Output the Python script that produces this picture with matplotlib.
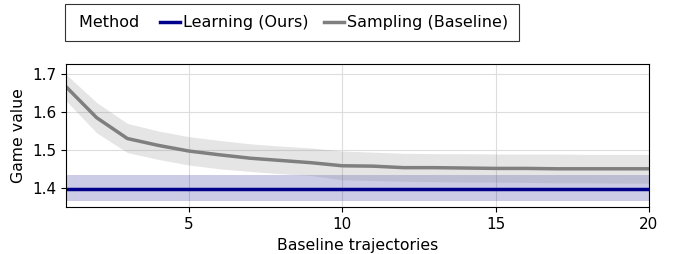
import matplotlib
matplotlib.use("Agg")
import matplotlib.pyplot as plt
from matplotlib.lines import Line2D
import numpy as np

# baseline trajectories
x = list(range(1, 21))

sampling_mean = [1.667, 1.585, 1.530, 1.512, 1.497, 1.487, 1.478, 1.472, 1.466, 1.458,
                 1.457, 1.453, 1.453, 1.452, 1.451, 1.451, 1.450, 1.450, 1.450, 1.450]
sampling_hi = [1.700, 1.625, 1.570, 1.550, 1.535, 1.525, 1.516, 1.510, 1.505, 1.497,
               1.494, 1.491, 1.490, 1.490, 1.489, 1.489, 1.489, 1.488, 1.488, 1.488]
sampling_lo = [1.630, 1.545, 1.493, 1.475, 1.460, 1.450, 1.443, 1.437, 1.432, 1.421,
               1.419, 1.417, 1.416, 1.415, 1.415, 1.414, 1.413, 1.413, 1.412, 1.412]

learning_mean = 1.397
learning_hi = 1.433
learning_lo = 1.365

blue = "#00008b"
gray = "#7f7f7f"

fig = plt.figure(figsize=(6.73, 2.54), dpi=100)
ax = fig.add_axes([66 / 673, 1 - 207 / 254, (649 - 66) / 673, (207 - 64) / 254])

ax.fill_between(x, [learning_lo] * len(x), [learning_hi] * len(x), color=blue, alpha=0.2, lw=0)
ax.plot(x, [learning_mean] * len(x), color=blue, lw=2.5)
ax.fill_between(x, sampling_lo, sampling_hi, color=gray, alpha=0.2, lw=0)
ax.plot(x, sampling_mean, color=gray, lw=2.5)

ax.set_xlim(1, 20)
ax.set_ylim(1.349, 1.727)
ax.set_xticks([5, 10, 15, 20])
ax.set_yticks([1.4, 1.5, 1.6, 1.7])
ax.grid(True, color="#dddddd", lw=0.8)
ax.set_axisbelow(True)
ax.tick_params(labelsize=11)
ax.set_xlabel("Baseline trajectories", fontsize=11.3, labelpad=4.5)
ax.set_ylabel("Game value", fontsize=11.3)

handles = [Line2D([], [], color="none"),
           Line2D([], [], color=blue, lw=2.5),
           Line2D([], [], color=gray, lw=2.5)]
labels = ["Method ", "Learning (Ours)", "Sampling (Baseline)"]
leg = fig.legend(handles, labels, ncol=3, loc="upper left", bbox_to_anchor=(65 / 673, 1 - 4 / 254),
                 borderaxespad=0, fontsize=11.5, frameon=True, fancybox=False, edgecolor="black",
                 handlelength=1.25, handletextpad=0.2, columnspacing=0.95, borderpad=0.7)
leg.get_frame().set_linewidth(0.8)
# no handle space in front of the "Method" label
first_item = leg._legend_handle_box.get_children()[0].get_children()[0]
first_item.get_children()[0].width = 0

fig.savefig("out.png", dpi=100)
